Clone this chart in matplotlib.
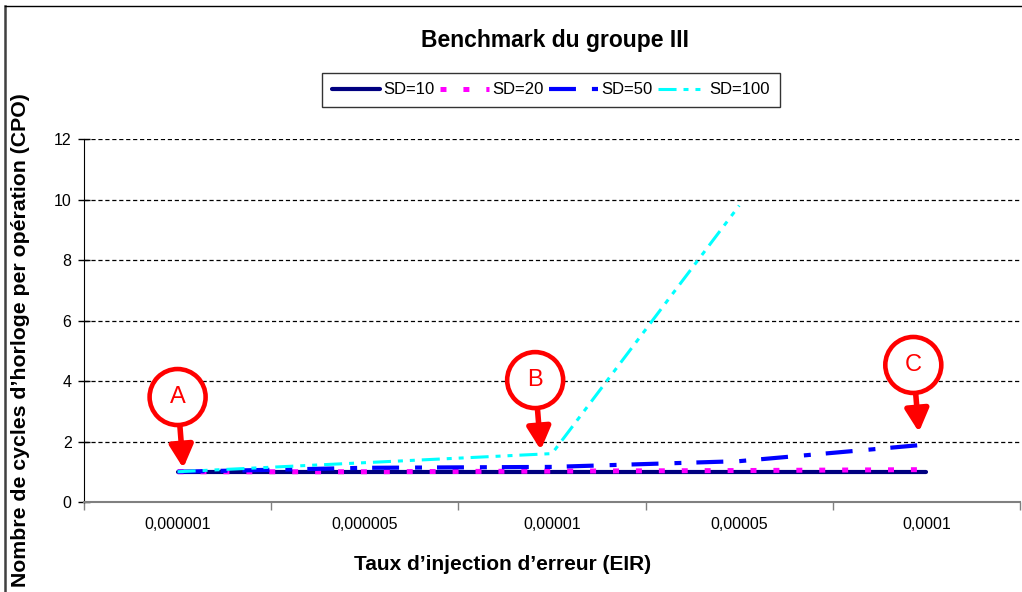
import numpy as np
import matplotlib
matplotlib.use("Agg")
import matplotlib.pyplot as plt
from matplotlib.lines import Line2D

plt.rcParams['font.family'] = ['Liberation Sans', 'DejaVu Sans']
plt.rcParams['lines.scale_dashes'] = False

# donnees
categories = ['0,000001', '0,000005', '0,00001', '0,00005', '0,0001']
sd10 = [1.0, 1.0, 1.0, 1.0, 1.0]
sd20 = [1.0, 1.0, 1.02, 1.04, 1.07]
sd50 = [1.0, 1.13, 1.16, 1.35, 1.9]
sd100 = [1.0, 1.3, 1.6, 9.8, np.nan]
yticks = [0, 2, 4, 6, 8, 10, 12]

W, H = 1022, 592
fig = plt.figure(figsize=(W / 100, H / 100), dpi=100)
ax = fig.add_axes([84 / W, 90 / H, 936 / W, 363 / H])

x = np.arange(len(categories))
ax.plot(x, sd10, color='#000080', lw=3, solid_capstyle='round', label='SD=10', zorder=3)
ax.plot(x, sd20, color='#FF00FF', lw=3.6, dashes=(4.3, 12.2), dash_capstyle='butt',
        label='SD=20', zorder=4)
ax.plot(x, sd50, color='#0000FF', lw=3, dashes=(19.4, 11.5, 5, 10.8), dash_capstyle='butt',
        label='SD=50', zorder=5)
ax.plot(x, sd100, color='#00FFFF', lw=2.2, dashes=(13, 5, 3.6, 5, 3.6, 5), dash_capstyle='butt',
        label='SD=100', zorder=6)

ax.set_xlim(-0.5, len(categories) - 0.5)
ax.set_ylim(0, 12)
ax.set_yticks(yticks)
ax.tick_params(axis='y', direction='inout', length=8, width=1, labelsize=11.5, pad=5)

# ticks aux frontieres, etiquettes au centre des categories
ax.set_xticks(np.arange(len(categories) + 1) - 0.5)
ax.set_xticklabels([])
ax.set_xticks(x, minor=True)
ax.set_xticklabels(categories, minor=True)
ax.tick_params(axis='x', which='major', direction='out', length=6, width=1, color='#808080')
ax.tick_params(axis='x', which='minor', length=0, labelsize=11.5, pad=11)

ax.yaxis.grid(True, color='black', linestyle=(0, (3, 2)), lw=0.9)
ax.set_axisbelow(True)
for s in ['top', 'right']:
    ax.spines[s].set_visible(False)
ax.spines['left'].set_color('black')
ax.spines['bottom'].set_color('#808080')
ax.spines['bottom'].set_linewidth(1.5)

ax.set_xlabel('Taux d’injection d’erreur (EIR)', fontsize=15, fontweight='bold')
ax.xaxis.set_label_coords((503 - 84) / 936, (502 - 565) / 363)
ax.xaxis.label.set_va('center')
ax.set_ylabel('Nombre de cycles d’horloge per opération (CPO)', fontsize=15.3, fontweight='bold')
ax.yaxis.set_label_coords((21 - 84) / 936, (502 - 340) / 363)
ax.yaxis.label.set_va('center')

fig.text(555 / W, 1 - 40 / H, 'Benchmark du groupe III', ha='center', va='center',
         fontsize=16.5, fontweight='bold')

leg = ax.legend(loc='center', bbox_to_anchor=(551 / W, 1 - 90 / H), bbox_transform=fig.transFigure,
                ncol=4, fontsize=12, frameon=True, fancybox=False, edgecolor='black',
                handlelength=2.9, handletextpad=0.2, columnspacing=0.35, borderpad=0.6,
                borderaxespad=0)
leg.get_frame().set_linewidth(1)

# annotations A, B, C
notes = [('A', (0.03, 1.12), (0.0, 3.47)),
         ('B', (1.94, 1.72), (1.91, 4.03)),
         ('C', (3.96, 2.31), (3.93, 4.53))]
for lab, tip, pos in notes:
    ax.annotate(lab, xy=tip, xytext=pos, ha='center', va='center', color='red', fontsize=17,
                bbox=dict(boxstyle='circle,pad=0.72', fc='white', ec='red', lw=3.3),
                arrowprops=dict(arrowstyle='-|>,head_length=0.8,head_width=0.42', color='red',
                                lw=4, shrinkA=0, shrinkB=0),
                zorder=10)

# cadre du graphique
fig.add_artist(Line2D([5 / W, 5 / W], [0, 1 - 6 / H], color='#404040', lw=1.8))
fig.add_artist(Line2D([5 / W, 1], [1 - 6 / H, 1 - 6 / H], color='black', lw=1))

fig.savefig('out.png', dpi=100)
